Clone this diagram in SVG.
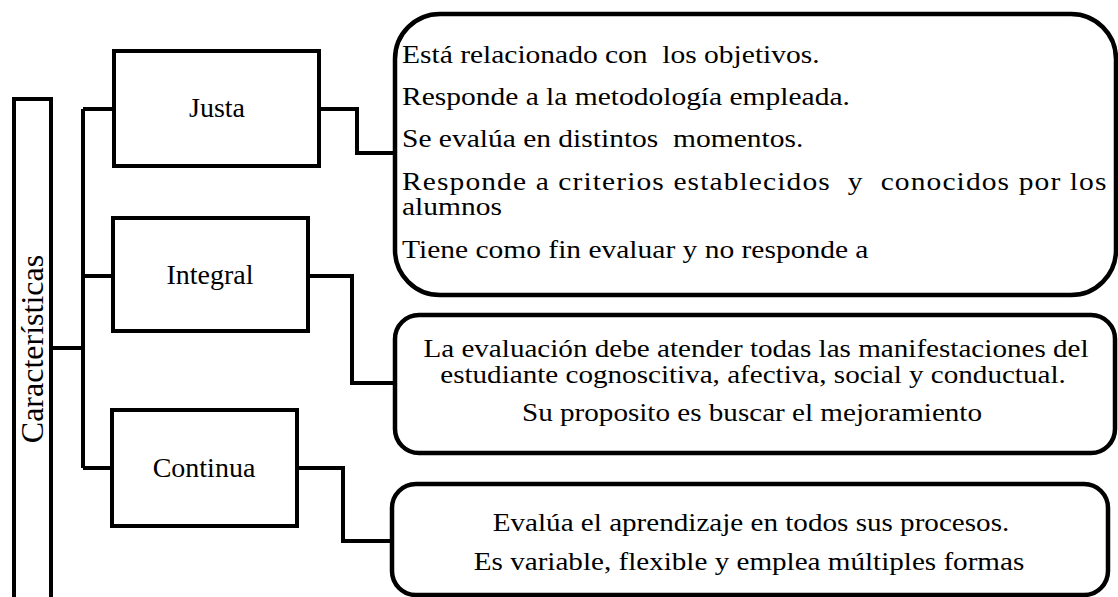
<svg xmlns="http://www.w3.org/2000/svg" width="1118" height="597" viewBox="0 0 1118 597">
<style>
.box{fill:#fff;stroke:#000;stroke-width:4}
.rbox{fill:#fff;stroke:#000;stroke-width:4.5}
.conn{fill:none;stroke:#000;stroke-width:4;stroke-linejoin:miter}
text{font-family:"Liberation Serif","Times New Roman",serif;fill:#000;white-space:pre}
.lbl{font-size:28px;text-anchor:middle}
.big{font-size:25px}
.mid{text-anchor:middle}
</style>
<rect width="1118" height="597" fill="#fff"/>
<g id="connectors">
<path class="conn" d="M51,348 H83 M83,109 V468 M83,109 H114 M83,276 H113 M83,468 H112"/>
<path class="conn" d="M319,109 H357 V153 H395"/>
<path class="conn" d="M308,276 H352 V383 H395"/>
<path class="conn" d="M297,468 H343 V541 H392"/>
</g>
<g id="caracteristicas">
<rect class="box" x="14" y="99" width="37" height="520"/>
<text transform="translate(43,349) rotate(-90)" font-size="32" text-anchor="middle">Características</text>
</g>
<g id="justa">
<rect class="box" x="114" y="51" width="205" height="115"/>
<text class="lbl" x="217" y="117">Justa</text>
</g>
<g id="integral">
<rect class="box" x="113" y="218" width="195" height="113"/>
<text class="lbl" x="210" y="284">Integral</text>
</g>
<g id="continua">
<rect class="box" x="112" y="410" width="185" height="116"/>
<text class="lbl" x="204" y="477">Continua</text>
</g>
<g id="justa-detail">
<rect class="rbox" x="395" y="14" width="721" height="281" rx="45" ry="45"/>
<text class="big" transform="translate(402,63) scale(1.18,1)">Está relacionado con  los objetivos.</text>
<text class="big" transform="translate(402,105) scale(1.18,1)">Responde a la metodología empleada.</text>
<text class="big" transform="translate(402,147) scale(1.18,1)">Se evalúa en distintos  momentos.</text>
<text class="big" transform="translate(402,190) scale(1.18,1)" textLength="597" lengthAdjust="spacing">Responde a criterios establecidos  y  conocidos por los</text>
<text class="big" transform="translate(402,215) scale(1.18,1)">alumnos</text>
<text class="big" transform="translate(402,258) scale(1.18,1)">Tiene como fin evaluar y no responde a</text>
</g>
<g id="integral-detail">
<rect class="rbox" x="395" y="315" width="720" height="138" rx="24" ry="24"/>
<text class="big mid" transform="translate(756,357) scale(1.165,1)">La evaluación debe atender todas las manifestaciones del</text>
<text class="big mid" transform="translate(753,383) scale(1.165,1)">estudiante cognoscitiva, afectiva, social y conductual.</text>
<text class="big mid" transform="translate(752,421) scale(1.165,1)">Su proposito es buscar el mejoramiento</text>
</g>
<g id="continua-detail">
<rect class="rbox" x="392" y="484" width="716" height="111" rx="24" ry="24"/>
<text class="big mid" transform="translate(751,531) scale(1.165,1)">Evalúa el aprendizaje en todos sus procesos.</text>
<text class="big mid" transform="translate(749,570) scale(1.165,1)">Es variable, flexible y emplea múltiples formas</text>
</g>
</svg>
